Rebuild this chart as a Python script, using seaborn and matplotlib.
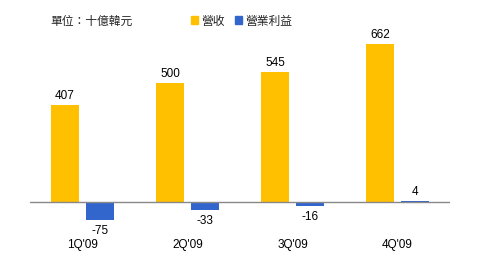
import matplotlib
matplotlib.use("Agg")
import matplotlib.pyplot as plt
import seaborn as sns
import pandas as pd
from matplotlib.patches import Patch

quarters = ["1Q'09", "2Q'09", "3Q'09", "4Q'09"]
revenue = [407, 500, 545, 662]
op_profit = [-75, -33, -16, 4]
series_names = ["營收", "營業利益"]
unit_label = "單位：十億韓元"

df = pd.DataFrame({
    "q": quarters * 2,
    "v": revenue + op_profit,
    "s": [series_names[0]] * 4 + [series_names[1]] * 4,
})

sns.set_theme(style="white")
plt.rcParams['font.family'] = ['Liberation Sans', 'Noto Sans CJK TC']

fig = plt.figure(figsize=(4.8, 2.55), dpi=100)
ax = fig.add_axes([30/480, (255-235)/255, 420/480, 215/255])

palette = {series_names[0]: "#FFC000", series_names[1]: "#3366CC"}
sns.barplot(data=df, x="q", y="v", hue="s", order=quarters, hue_order=series_names,
            palette=palette, width=0.667, gap=0.2, ax=ax, saturation=1,
            edgecolor="none", linewidth=0, err_kws={'linewidth': 0})

ax.set_xlim(-0.5, 3.5)
ax.set_ylim(-134, 767)
for s in ax.spines.values():
    s.set_visible(False)
ax.set_yticks([])
ax.set_xlabel("")
ax.set_ylabel("")
ax.axhline(0, color="#888888", lw=1, zorder=1)
ax.tick_params(axis="x", length=0, pad=3, labelsize=8.5, labelcolor="black")

for cont in ax.containers:
    vals = [int(round(b.get_height())) for b in cont]
    ax.bar_label(cont, labels=[str(v) for v in vals], padding=3, fontsize=8.5, color="black")

leg = ax.get_legend()
if leg is not None:
    leg.remove()
handles = [Patch(color=palette[n]) for n in series_names]
fig.legend(handles, series_names, loc="center left", bbox_to_anchor=(191/480, 1 - 22/255),
           ncol=2, frameon=False, fontsize=8.5, handlelength=0.6, handleheight=0.6,
           handletextpad=0.3, columnspacing=0.8, borderaxespad=0, borderpad=0)
fig.text(50/480, 1 - 22/255, unit_label, fontsize=8.5, va="center", ha="left")

fig.savefig("out.png", dpi=100)
